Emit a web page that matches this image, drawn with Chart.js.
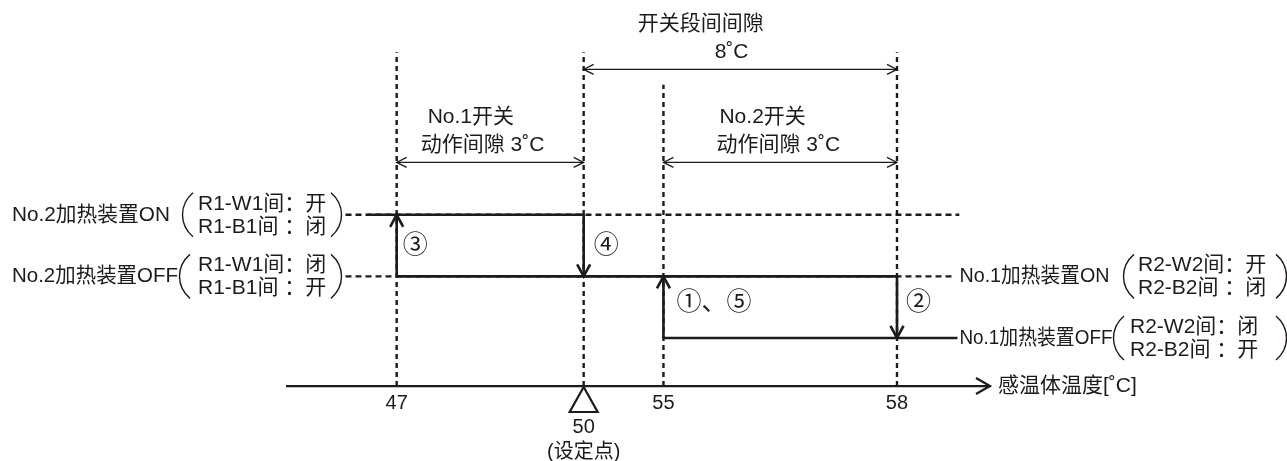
<!DOCTYPE html>
<html>
<head>
<meta charset="utf-8">
<title>加热装置动作图</title>
<script src="https://cdn.jsdelivr.net/npm/chart.js@4.4.1/dist/chart.umd.min.js"></script>
<style>
  html, body { margin: 0; padding: 0; background: #fff; }
  canvas { display: block; }
</style>
</head>
<body>
<canvas id="chart" width="1287" height="461"></canvas>
<script>
// temperatures on the axis
let tempTicks = [47, 50, 55, 58];
let tickText = ['47', '50', '55', '58'];
let setPoint = 50;
let setPointNote = '(设定点)';
let axisTitle = '感温体温度[˚C]';

// state levels: 1 = No.1 OFF, 2 = No.1 ON / No.2 OFF, 3 = No.2 ON
let leftLevels = [3, 2];
let leftNames = ['No.2加热装置ON', 'No.2加热装置OFF'];
let leftContacts = [['R1-W1间：开', 'R1-B1间 ：闭'], ['R1-W1间：闭', 'R1-B1间 ：开']];
let rightLevels = [2, 1];
let rightNames = ['No.1加热装置ON', 'No.1加热装置OFF'];
let rightContacts = [['R2-W2间：开', 'R2-B2间 ：闭'], ['R2-W2间：闭', 'R2-B2间 ：开']];

// solid runs of the loop: [level, from, to]  (null = out to the label)
let levelRuns = [[3, null, 50], [2, 47, 58], [1, 55, null]];

// switching steps
let stepMarks = ['①、⑤', '②', '③', '④'];
let stepTemps = [55, 58, 47, 50];
let stepFrom = [1, 2, 2, 3];
let stepTo = [2, 1, 3, 2];

// differential spans
let spanFrom = [50, 47, 55];
let spanTo = [58, 50, 58];
let spanText = [['开关段间间隙', '8˚C'], ['No.1开关', '动作间隙 3˚C'], ['No.2开关', '动作间隙 3˚C']];

// ---- layout ----
const LINE = '#1e1a1b';
const FONT = '"Liberation Sans", "Noto Sans CJK SC", sans-serif';
// schematic axis: temperature -> fraction of axis width
const xKnots = [44, 47, 50, 55, 58, 60];
const xFrac = [0, 0.156, 0.422, 0.5355, 0.8677, 1];
const leadLeft = 45.6, leadSolid = 46.2, leadRight = 59.3;
const leadRightDash = [59.34, 59.25];
const yMin = 0.22, yMax = 6;
const guideTop = [5.64, 5.64, 5.11, 5.64];
const spanY = [5.36, 3.85, 3.85];
const spanDX = [[54, 131], [31, 24], [56, 53]];
const stepDX = [13, 9, 6, 10];
const stepDY = [-4, -4, 1, 1];
const leftNameW = [158, 166], rightNameW = [150, 153];
const leftParenX = [188, 185], leftTextX = 198, leftCloseX = 336;
const rightParenX = [1129, 1119], rightTextX = [1138, 1130], rightCloseX = 1281;

function interp(v, xs, ys) {
    let i = 1;
    while (i < xs.length - 1 && v > xs[i]) i++;
    return ys[i - 1] + (v - xs[i - 1]) * (ys[i] - ys[i - 1]) / (xs[i] - xs[i - 1]);
}

// linear scale with a piecewise (schematic) mapping
class SchematicScale extends Chart.LinearScale {
    getPixelForValue(value) {
        if (value === null || value === undefined || isNaN(value)) return NaN;
        return this.getPixelForDecimal(interp(value, xKnots, xFrac));
    }
    getValueForPixel(pixel) {
        return interp(this.getDecimalForPixel(pixel), xFrac, xKnots);
    }
}
SchematicScale.id = 'schematic';
SchematicScale.defaults = Chart.LinearScale.defaults;
Chart.register(SchematicScale);

function seg(points, opts) {
    return Object.assign({
        data: points,
        showLine: true,
        pointRadius: 0,
        pointHoverRadius: 0,
        borderColor: LINE,
        borderWidth: 2.6,
        borderJoinStyle: 'miter',
        fill: false
    }, opts);
}

let datasets = [];
levelRuns.forEach(r => {
    datasets.push(seg([{ x: r[1] ?? leadSolid, y: r[0] }, { x: r[2] ?? leadRight, y: r[0] }], { order: 0 }));
});
stepTemps.forEach((t, i) => {
    datasets.push(seg([{ x: t, y: stepFrom[i] }, { x: t, y: stepTo[i] }], { order: 0 }));
});
leftLevels.forEach((lv, i) => {
    datasets.push(seg([{ x: leadLeft, y: lv }, { x: leadRightDash[i], y: lv }], { borderWidth: 2.4, borderDash: [6, 4], order: 1 }));
});
tempTicks.forEach((t, i) => {
    datasets.push(seg([{ x: t, y: yMin }, { x: t, y: guideTop[i] }], { borderWidth: 2.4, borderDash: [5, 4], order: 2 }));
});

function chevron(ctx, tx, ty, dx, dy, len, half, width) {
    let px = -dy, py = dx;
    ctx.lineWidth = width;
    ctx.beginPath();
    ctx.moveTo(tx - dx * len + px * half, ty - dy * len + py * half);
    ctx.lineTo(tx, ty);
    ctx.lineTo(tx - dx * len - px * half, ty - dy * len - py * half);
    ctx.stroke();
}

function paren(ctx, x, yc, open) {
    let s = open ? 1 : -1;
    ctx.lineWidth = 1.4;
    ctx.beginPath();
    ctx.moveTo(x + 5 * s, yc - 22);
    ctx.bezierCurveTo(x - 9 * s, yc - 10, x - 9 * s, yc + 10, x + 5 * s, yc + 22);
    ctx.stroke();
}

function contactBlock(ctx, lines, openX, textX, closeX, yc) {
    paren(ctx, openX, yc, true);
    paren(ctx, closeX, yc, false);
    ctx.textAlign = 'left';
    ctx.fillText(lines[0], textX, yc - 11);
    ctx.fillText(lines[1], textX, yc + 12);
}

const deco = {
    id: 'deco',
    afterDatasetsDraw(chart) {
        const { ctx, chartArea, scales: { x, y } } = chart;
        ctx.save();
        ctx.strokeStyle = LINE;
        ctx.fillStyle = LINE;
        ctx.lineCap = 'butt';
        ctx.lineJoin = 'miter';

        // step arrowheads and marks
        ctx.font = '25px ' + FONT;
        ctx.textBaseline = 'middle';
        ctx.textAlign = 'left';
        stepTemps.forEach((t, i) => {
            let px = x.getPixelForValue(t);
            let py = y.getPixelForValue(stepTo[i]);
            let dy = stepTo[i] > stepFrom[i] ? -1 : 1;
            chevron(ctx, px, py, 0, dy, 12, 6.5, 2.6);
            let my = (y.getPixelForValue(stepFrom[i]) + py) / 2 + stepDY[i];
            ctx.fillText(stepMarks[i], px + stepDX[i], my);
        });

        // axis arrow and set point triangle
        chevron(ctx, chartArea.right, chartArea.bottom, 1, 0, 14, 8, 2.2);
        let sx = x.getPixelForValue(setPoint);
        ctx.lineWidth = 2.2;
        ctx.beginPath();
        ctx.moveTo(sx, chartArea.bottom + 1);
        ctx.lineTo(sx - 14, chartArea.bottom + 26);
        ctx.lineTo(sx + 14, chartArea.bottom + 26);
        ctx.closePath();
        ctx.fillStyle = '#fff';
        ctx.fill();
        ctx.stroke();
        ctx.fillStyle = LINE;

        ctx.font = '21px ' + FONT;
        ctx.fillText(axisTitle, chartArea.right + 8, chartArea.bottom);

        // differential spans
        spanFrom.forEach((f, i) => {
            let x1 = x.getPixelForValue(f), x2 = x.getPixelForValue(spanTo[i]);
            let sy = y.getPixelForValue(spanY[i]);
            ctx.lineWidth = 1.3;
            ctx.beginPath();
            ctx.moveTo(x1, sy);
            ctx.lineTo(x2, sy);
            ctx.stroke();
            chevron(ctx, x1, sy, -1, 0, 10, 5, 1.3);
            chevron(ctx, x2, sy, 1, 0, 10, 5, 1.3);
            ctx.fillText(spanText[i][0], x1 + spanDX[i][0], sy - 45);
            ctx.fillText(spanText[i][1], x1 + spanDX[i][1], sy - 17);
        });

        // state labels
        leftLevels.forEach((lv, i) => {
            let yc = y.getPixelForValue(lv);
            ctx.font = '21px ' + FONT;
            ctx.fillText(leftNames[i], 12, yc, leftNameW[i]);
            contactBlock(ctx, leftContacts[i], leftParenX[i], leftTextX, leftCloseX, yc);
        });
        rightLevels.forEach((lv, i) => {
            let yc = y.getPixelForValue(lv);
            ctx.font = '21px ' + FONT;
            ctx.fillText(rightNames[i], x.getPixelForValue(leadRight) + 2, yc, rightNameW[i]);
            contactBlock(ctx, rightContacts[i], rightParenX[i], rightTextX[i], rightCloseX, yc);
        });
        ctx.restore();
    }
};

let chart = new Chart(document.getElementById('chart'), {
    type: 'scatter',
    data: { datasets: datasets },
    options: {
        responsive: false,
        animation: false,
        events: [],
        layout: { padding: { left: 287, right: 297, top: 30, bottom: 0 } },
        plugins: { legend: { display: false }, tooltip: { enabled: false } },
        scales: {
            x: {
                type: 'schematic',
                min: xKnots[0],
                max: xKnots[xKnots.length - 1],
                grid: { display: false, drawTicks: false },
                border: { display: true, color: LINE, width: 2.2 },
                afterBuildTicks: scale => {
                    scale.ticks = tempTicks.map(v => ({ value: v }));
                },
                afterFit: scale => {
                    scale.height = 75;
                },
                ticks: {
                    autoSkip: false,
                    maxRotation: 0,
                    padding: 5,
                    color: LINE,
                    font: { family: FONT, size: 20, lineHeight: 1.23 },
                    callback: value => {
                        let label = tickText[tempTicks.indexOf(value)];
                        return value === setPoint ? ['', label, setPointNote] : label;
                    }
                }
            },
            y: { type: 'linear', min: yMin, max: yMax, display: false }
        }
    },
    plugins: [deco]
});
</script>
</body>
</html>
